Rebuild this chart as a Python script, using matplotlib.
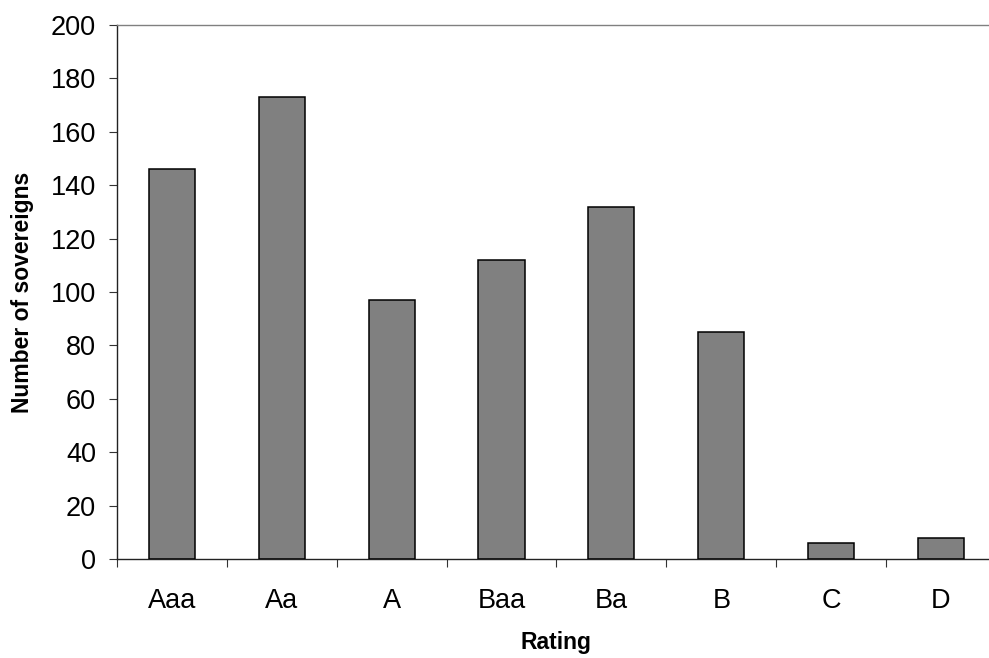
import numpy as np
import matplotlib.pyplot as plt
from matplotlib.ticker import FixedLocator, NullFormatter

plt.rcParams["font.family"] = ["Liberation Sans", "DejaVu Sans"]

ratings = ["Aaa", "Aa", "A", "Baa", "Ba", "B", "C", "D"]
sovereigns = [146, 173, 97, 112, 132, 85, 6, 8]
y_ticks = list(range(0, 201, 20))

fig = plt.figure(figsize=(9.89, 6.58), dpi=100)
ax = fig.add_axes([0.1183, 0.1505, 1.007 - 0.1183, 0.962 - 0.1505])

x = np.arange(len(ratings))
ax.bar(x, sovereigns, width=0.42, color="#808080", edgecolor="black", linewidth=1.1, zorder=3)

ax.set_xlim(-0.5, len(ratings) - 0.5)
ax.set_ylim(0, 200)

# category boundaries carry the tick marks, centres carry the labels
ax.xaxis.set_major_locator(FixedLocator(np.arange(len(ratings) + 1) - 0.5))
ax.xaxis.set_major_formatter(NullFormatter())
ax.xaxis.set_minor_locator(FixedLocator(x))
ax.set_xticklabels(ratings, minor=True)
ax.tick_params(axis="x", which="major", direction="out", length=6, width=0.8, color="#333333")
ax.tick_params(axis="x", which="minor", length=0, pad=21, labelsize=19.5)

ax.set_yticks(y_ticks)
ax.tick_params(axis="y", direction="out", length=6, width=0.8, color="#333333", pad=9, labelsize=19.5)

for side in ["left", "bottom"]:
    ax.spines[side].set_color("#222222")
    ax.spines[side].set_linewidth(1.0)
for side in ["top", "right"]:
    ax.spines[side].set_color("#808080")
    ax.spines[side].set_linewidth(1.0)

ax.set_xlabel("Rating", fontsize=16.5, fontweight="bold", labelpad=12)
ax.set_ylabel("Number of sovereigns", fontsize=16.5, fontweight="bold", labelpad=12)

plt.savefig("out.png", dpi=100)
